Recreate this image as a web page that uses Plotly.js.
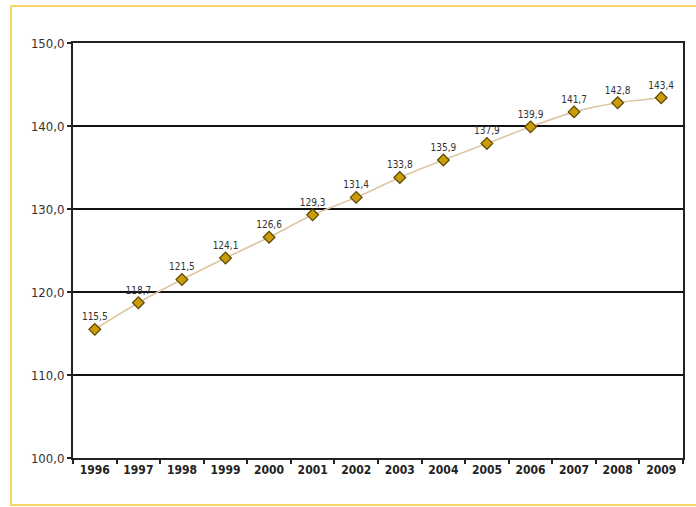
<!DOCTYPE html>
<html>
<head>
<meta charset="utf-8">
<script src="https://cdn.plot.ly/plotly-3.0.1.min.js"></script>
<style>
html,body{margin:0;padding:0;background:#fff;}
#chart{width:696px;height:507px;}
</style>
</head>
<body>
<div id="chart"></div>
<script>
const years = ["1996","1997","1998","1999","2000","2001","2002","2003","2004","2005","2006","2007","2008","2009"];
const values = [115.5,118.7,121.5,124.1,126.6,129.3,131.4,133.8,135.9,137.9,139.9,141.7,142.8,143.4];
const yTicks = [100,110,120,130,140,150];

const fontFam = "'DejaVu Sans Condensed','Liberation Sans Narrow','Roboto Condensed',sans-serif";
const labels = values.map(v => v.toFixed(1).replace('.', ','));

const trace = {
  x: years,
  y: values,
  type: 'scatter',
  mode: 'lines+markers+text',
  text: labels,
  textposition: 'top center',
  textfont: {family: fontFam, size: 10, color: '#333'},
  line: {color: '#dcc7a4', width: 1.6, shape: 'spline', smoothing: 0.6},
  marker: {symbol: 'diamond', size: 9, color: '#c99c0a', line: {color: '#5a4300', width: 1.2}},
  cliponaxis: false,
  hoverinfo: 'x+y'
};

const layout = {
  width: 696, height: 507,
  margin: {l: 73, r: 13, t: 43, b: 49},
  paper_bgcolor: '#fff',
  plot_bgcolor: '#fff',
  separators: ', ',
  showlegend: false,
  font: {family: fontFam, color: '#222'},
  xaxis: {
    type: 'category',
    tickson: 'boundaries',
    ticks: 'outside', ticklen: 4, tickwidth: 2, tickcolor: '#222',
    showline: true, linecolor: '#222', linewidth: 2, mirror: true,
    showgrid: false,
    tickfont: {family: fontFam, size: 12, color: '#222', weight: 'bold'},
    range: [-0.5, 13.5]
  },
  yaxis: {
    range: [100, 150],
    tickvals: yTicks,
    tickformat: '.1f',
    ticks: 'outside', ticklen: 4, tickwidth: 2, tickcolor: '#222',
    showline: true, linecolor: '#222', linewidth: 2, mirror: true,
    showgrid: true, gridcolor: '#111', gridwidth: 2,
    zeroline: false,
    tickfont: {family: fontFam, size: 13, color: '#333'}
  },
  shapes: [{
    type: 'rect', xref: 'paper', yref: 'paper',
    x0: -62/610, x1: 1 + 30/610, y0: -47/415, y1: 1 + 37/415,
    line: {color: '#f7d66a', width: 2}, fillcolor: 'rgba(0,0,0,0)', layer: 'below'
  }]
};

Plotly.newPlot('chart', [trace], layout, {displayModeBar: false, staticPlot: true});
</script>
</body>
</html>
